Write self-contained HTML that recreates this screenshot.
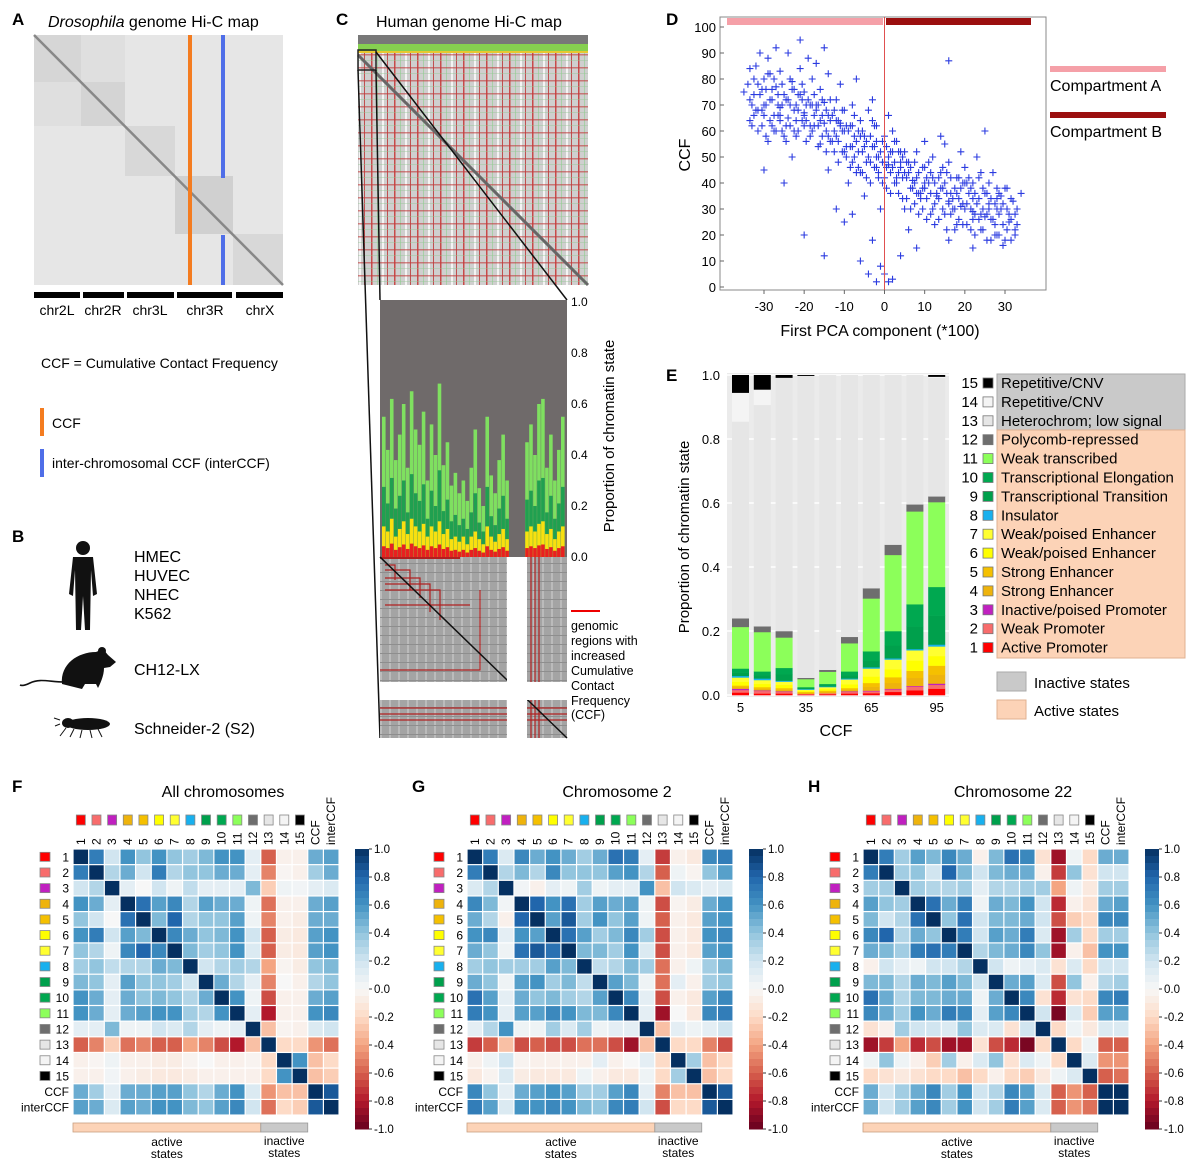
<!DOCTYPE html>
<html><head><meta charset="utf-8"><style>
html,body{margin:0;padding:0;background:#fff;}
svg{display:block;font-family:"Liberation Sans",Arial,sans-serif;}
</style></head><body>
<svg id="fig" width="1193" height="1165" viewBox="0 0 1193 1165" xmlns="http://www.w3.org/2000/svg">
<defs>
<pattern id="stripesC" width="23" height="10" patternUnits="userSpaceOnUse">
<rect width="23" height="10" fill="#cfcfcf"/><rect x="3" width="1.5" height="10" fill="#c84a4a"/><rect x="9" width="1" height="10" fill="#a8cfa8"/><rect x="14" width="2" height="10" fill="#f4f4f4"/><rect x="19" width="1" height="10" fill="#c05050"/>
</pattern>
<pattern id="hstripesC" width="10" height="13" patternUnits="userSpaceOnUse">
<rect y="2" width="10" height="1.5" fill="#c23a3a" opacity="0.6"/><rect y="8" width="10" height="1" fill="#90c890" opacity="0.4"/>
</pattern>
<pattern id="grayMat" width="9" height="9" patternUnits="userSpaceOnUse">
<rect width="9" height="9" fill="#a4a4a4"/><rect x="2" width="2" height="9" fill="#bbb"/><rect y="5" width="9" height="1" fill="#8e8e8e"/>
</pattern>
</defs>

<!-- Panel A -->
<g>
<text x="12" y="25" font-size="17" font-weight="bold">A</text>
<text x="48" y="27" font-size="16"><tspan font-style="italic">Drosophila</tspan> genome Hi-C map</text>
<g>
<rect x="34" y="35" width="249" height="250" fill="#e6e6e6"/>
<rect x="34" y="35" width="47" height="47" fill="#d6d6d6"/>
<rect x="81" y="82" width="44" height="44" fill="#d4d4d4"/>
<rect x="125" y="126" width="50" height="50" fill="#d8d8d8"/>
<rect x="175" y="176" width="58" height="58" fill="#d0d0d0"/>
<rect x="233" y="234" width="50" height="51" fill="#d8d8d8"/>
<rect x="34" y="82" width="47" height="44" fill="#dfdfdf"/>
<rect x="81" y="35" width="44" height="47" fill="#dfdfdf"/>
<line x1="34" y1="35" x2="283" y2="285" stroke="#888" stroke-width="2.5"/>
<rect x="188" y="35" width="4" height="250" fill="#f47c20"/>
<rect x="221" y="35" width="4" height="143" fill="#4f6ee8"/>
<rect x="221" y="235" width="4" height="50" fill="#4f6ee8"/>
</g>
<g fill="#000">
<rect x="34" y="292" width="46" height="6"/><rect x="83" y="292" width="41" height="6"/><rect x="127" y="292" width="47" height="6"/><rect x="177" y="292" width="55" height="6"/><rect x="236" y="292" width="47" height="6"/>
</g>
<g font-size="14" text-anchor="middle">
<text x="57" y="315">chr2L</text><text x="103" y="315">chr2R</text><text x="150" y="315">chr3L</text><text x="205" y="315">chr3R</text><text x="260" y="315">chrX</text>
</g>
<text x="41" y="368" font-size="14">CCF = Cumulative Contact Frequency</text>
<rect x="40" y="408" width="4" height="28" fill="#f47c20"/>
<text x="52" y="428" font-size="14">CCF</text>
<rect x="40" y="449" width="4" height="28" fill="#4f6ee8"/>
<text x="52" y="468" font-size="14">inter-chromosomal CCF (interCCF)</text>
</g>

<!-- Panel B -->
<g>
<text x="12" y="542" font-size="17" font-weight="bold">B</text>
<g fill="#111">
<circle cx="83" cy="548" r="7"/>
<path d="M73 557 L93 557 L97 594 L93 596 L91 570 L90 630 L85 630 L83 596 L81 630 L76 630 L75 570 L73 596 L69 594 Z"/>
</g>
<g font-size="16">
<text x="134" y="562">HMEC</text><text x="134" y="581">HUVEC</text><text x="134" y="600">NHEC</text><text x="134" y="619">K562</text>
</g>
<g fill="#111">
<path d="M62 684 C60 664 78 652 96 652 L103 649 L108 655 L116 662 L110 667 L104 668 C104 676 100 684 98 688 L96 684 L85 684 L82 689 Z"/>
<circle cx="102" cy="651" r="4"/>
<path d="M64 682 C50 682 40 678 30 683 C26 685 22 686 20 685" stroke="#111" stroke-width="1.6" fill="none"/>
</g>
<text x="134" y="675" font-size="16">CH12-LX</text>
<g fill="#111">
<ellipse cx="88" cy="724" rx="22" ry="6"/><ellipse cx="68" cy="723" rx="6" ry="5"/>
<path d="M66 728 L60 736 M74 729 L70 737 M82 730 L80 738 M90 730 L92 738 M98 729 L102 737" stroke="#111" stroke-width="1"/>
<path d="M60 720 L54 718 M60 724 L55 726" stroke="#111" stroke-width="1"/>
</g>
<text x="134" y="734" font-size="16">Schneider-2 (S2)</text>
</g>

<!-- Panel C -->
<g>
<text x="336" y="25" font-size="17" font-weight="bold">C</text>
<text x="376" y="27" font-size="16">Human genome Hi-C map</text>
<g>
<rect x="358" y="35" width="230" height="250" fill="url(#stripesC)"/>
<rect x="358" y="50" width="230" height="235" fill="url(#hstripesC)"/>
<rect x="358" y="35" width="230" height="17" fill="#787878"/>
<rect x="358" y="44" width="230" height="7" fill="#86d050"/>
<rect x="358" y="51" width="230" height="2" fill="#e8c830"/>
<line x1="358" y1="55" x2="588" y2="285" stroke="#666" stroke-width="3"/>
<rect x="358" y="50" width="18" height="20" fill="none" stroke="#222" stroke-width="1.5"/>
</g>
<g stroke="#111" stroke-width="1.5" fill="none">
<line x1="358" y1="70" x2="380" y2="738"/>
<line x1="376" y1="52" x2="567" y2="300"/>
<line x1="376" y1="70" x2="380" y2="300"/>
</g>
<g>
<rect x="380" y="300" width="187" height="257" fill="#6f6a6a"/>
<g id="spikes"></g>
<rect x="380" y="557" width="187" height="181" fill="url(#grayMat)"/>
<rect x="380" y="557" width="80" height="2" fill="#b02020"/>
<g stroke="#b02020" stroke-width="1.2" fill="none">
<path d="M385 565 H395 V580 M385 570 H410 V590 M385 578 H420 V598 M385 584 H430 V612 M385 590 H440 V620 M385 605 H470"/>
<path d="M380 670 H480 V590 M380 708 H567 M380 714 H567 M380 720 H567 M531 557 V738 M535 557 V738 M539 557 V738"/>
</g>
<line x1="380" y1="557" x2="567" y2="738" stroke="#111" stroke-width="1.5"/>
<rect x="507" y="557" width="20" height="181" fill="#fff"/>
<rect x="380" y="682" width="187" height="18" fill="#fff"/>
</g>
<g font-size="12">
<text x="571" y="306">1.0</text><text x="571" y="357">0.8</text><text x="571" y="408">0.6</text><text x="571" y="459">0.4</text><text x="571" y="510">0.2</text><text x="571" y="561">0.0</text>
</g>
<text transform="translate(614,436) rotate(-90)" font-size="15" text-anchor="middle">Proportion of chromatin state</text>
<line x1="571" y1="611" x2="600" y2="611" stroke="#e00" stroke-width="2"/>
<g font-size="12.5">
<text x="571" y="630">genomic</text><text x="571" y="645">regions with</text><text x="571" y="660">increased</text><text x="571" y="675">Cumulative</text><text x="571" y="690">Contact</text><text x="571" y="705">Frequency</text><text x="571" y="719">(CCF)</text>
</g>
</g>

<!-- Panel D -->
<g>
<text x="666" y="25" font-size="17" font-weight="bold">D</text>
<rect x="720" y="17" width="326" height="273" fill="#fff" stroke="#888" stroke-width="1"/>
<rect x="727" y="18" width="156" height="7" fill="#f5a0a8"/>
<rect x="886" y="18" width="145" height="7" fill="#9b0f0f"/>
<g id="scatter"></g>
<line x1="884.5" y1="17" x2="884.5" y2="290" stroke="#e05050" stroke-width="1"/>
<g id="dAxes"></g>
<text transform="translate(690,155) rotate(-90)" font-size="16" text-anchor="middle">CCF</text>
<text x="880" y="336" font-size="16" text-anchor="middle">First PCA component (*100)</text>
<rect x="1050" y="66" width="116" height="6" fill="#f5a0a8"/>
<text x="1050" y="91" font-size="16">Compartment A</text>
<rect x="1050" y="112" width="116" height="6" fill="#9b0f0f"/>
<text x="1050" y="137" font-size="16">Compartment B</text>
</g>

<!-- Panel E -->
<g>
<text x="666" y="381" font-size="17" font-weight="bold">E</text>
<rect x="727" y="373" width="222" height="324" fill="#ebebeb"/>
<g id="eGrid"></g>
<g id="bars"></g>
<g id="eAxes"></g>
<text transform="translate(689,537) rotate(-90)" font-size="15" text-anchor="middle">Proportion of chromatin state</text>
<text x="836" y="736" font-size="16" text-anchor="middle">CCF</text>
<rect x="997" y="374" width="188" height="56" fill="#c9c9c9" stroke="#aaa"/>
<rect x="997" y="430" width="188" height="228" fill="#fcd3b7" stroke="#e0b090"/>
<g id="eLegend"></g>
<rect x="997" y="672" width="29" height="19" fill="#c9c9c9" stroke="#aaa"/>
<text x="1034" y="688" font-size="15">Inactive states</text>
<rect x="997" y="700" width="29" height="19" fill="#fcd3b7" stroke="#e0b090"/>
<text x="1034" y="716" font-size="15">Active states</text>
</g>

<g id="heatmaps"></g>
</svg>

<script>
var NS = "http://www.w3.org/2000/svg";
function mk(tag, attrs, parent) { var e = document.createElementNS(NS, tag); for (var k in attrs) e.setAttribute(k, attrs[k]); if (parent) parent.appendChild(e); return e; }

// ---------- Panel C spike data ----------
var spikeTotals = [0.55,0.42,0.62,0.38,0.48,0.6,0.35,0.65,0.5,0.44,0.57,0.3,0.52,0.4,0.68,0.36,0.45,0.28,0.33,0.25,0.3,0.22,0.35,0.5,0.27,0.2,0.55,0.32,0.25,0.38,0.48,0.3,0.0,0.0,0.0,0.0,0.45,0.52,0.4,0.6,0.62,0.35,0.48,0.3,0.42,0.55];
var spikeYellow = [0.12,0.1,0.15,0.08,0.11,0.14,0.09,0.15,0.12,0.1,0.13,0.08,0.12,0.1,0.14,0.09,0.11,0.07,0.08,0.06,0.08,0.05,0.08,0.1,0.07,0.05,0.12,0.08,0.06,0.09,0.11,0.07,0,0,0,0,0.1,0.12,0.1,0.13,0.14,0.09,0.11,0.07,0.1,0.12];

// ---------- Panel D scatter data ----------
var pcaX = [-34,-33,-32,-31,-30,-30,-29,-28,-28,-27,-26,-26,-25,-24,-24,-23,-22,-22,-21,-20,-20,-19,-18,-18,-17,-16,-16,-15,-15,-14,-33,-31,-29,-27,-25,-23,-21,-19,-17,-15,
-13,-12,-12,-11,-10,-10,-9,-8,-8,-7,-6,-6,-5,-4,-4,-3,-2,-2,-1,0,0,1,2,2,3,4,5,-14,-11,-9,-7,-5,-3,-1,1,3,
6,7,8,8,9,10,11,12,12,13,14,15,15,16,17,18,18,19,20,20,21,22,22,23,24,24,25,26,26,27,28,28,29,30,31,32,33,10,14,19,23,27,30,16,
-20,-15,-10,-6,-3,0,2,-1,4,6,8,-12,-25,-30,-8,5,15,22,25,16,-4,1,-2,
-20,-18,-14,-12,-10,-6,-2,2,6,10,14,18,22,26,-24,-28,-16,-8,0,4,12,20,28,-22,-26,8,16,24,
-35,-32,-29,-26,-23,-20,-17,-14,-11,-8,-5,-2,1,4,7,10,13,16,19,22,25,28,31,34,-30,-27,-21,-13,-7,3,9,17,21,29,33,11,5,-3];
var ccfY = [78,70,85,74,66,80,88,72,62,77,69,83,74,65,90,79,70,58,84,75,66,72,80,60,68,76,55,71,63,82,62,90,56,92,58,50,95,88,86,92,
66,58,72,62,68,52,60,70,48,56,64,44,58,50,68,54,46,62,52,58,42,50,46,60,40,52,44,45,78,40,80,35,72,30,66,56,
48,38,52,42,34,46,40,30,50,36,44,28,40,48,34,42,24,38,30,46,36,26,40,32,44,22,36,30,40,26,34,20,30,38,28,33,24,56,58,52,50,44,18,18,
20,12,25,10,18,5,3,8,12,22,15,30,40,45,28,30,55,15,60,87,5,2,2,
62,70,66,64,60,58,56,52,44,40,38,36,34,32,72,76,64,54,48,46,42,40,38,64,66,36,32,28,
75,68,82,64,76,67,70,58,63,62,54,50,47,48,41,38,35,33,31,29,27,30,25,36,70,60,74,56,44,42,36,30,42,35,30,48,52,64];
var bandX = [-34,-33,-32,-31,-30,-29,-28,-27,-26,-25,-24,-23,-22,-21,-20,-19,-18,-17,-16,-15,-14,-13,-12,-11,-10,-9,-8,-7,-6,-5,-4,-3,-2,-1,0,1,2,3,4,5,6,7,8,9,10,11,12,13,14,15,16,17,18,19,20,21,22,23,24,25,26,27,28,29,30,31,32];
var bandY1 = [72,80,68,76,70,82,66,74,78,62,70,76,68,72,64,70,74,62,66,60,64,68,56,60,62,54,58,60,52,56,48,54,50,56,46,52,48,44,50,42,46,40,44,38,42,36,40,34,38,44,36,30,34,40,32,38,28,34,30,36,26,32,28,24,30,26,28];
var bandY2 = [64,74,60,68,58,72,60,66,70,56,62,68,60,64,56,62,66,54,58,52,56,60,48,52,54,46,50,52,44,48,40,46,42,48,38,44,40,36,42,34,38,32,36,30,34,28,32,26,30,36,28,22,26,32,24,30,20,26,22,28,18,24,20,16,22,18,20];
var bandY3 = [84,66,78,62,76,64,80,70,60,72,80,60,74,78,70,58,62,70,72,68,72,52,64,68,50,62,66,46,60,42,58,62,44,40,54,36,56,52,34,48,30,48,28,46,26,44,24,42,46,22,42,38,42,24,40,22,36,42,38,18,34,20,36,32,38,34,22];

// ---------- Panel E data ----------
var ccfBins = ["5","15","25","35","45","55","65","75","85","95"];
var stateNames = ["Active Promoter","Weak Promoter","Inactive/poised Promoter","Strong Enhancer","Strong Enhancer","Weak/poised Enhancer","Weak/poised Enhancer","Insulator","Transcriptional Transition","Transcriptional Elongation","Weak transcribed","Polycomb-repressed","Heterochrom; low signal","Repetitive/CNV","Repetitive/CNV"];
var stateColors = ["#ff0000","#f86c6c","#c020c0","#eeb30c","#f5c000","#ffff00","#ffff30","#18b0ee","#00a04c","#00a850","#8cff5a","#6e6e6e","#e6e6e6","#f4f4f4","#000000"];
var bar1 = [.008,.008,.004,.005,.005,.012,.013,.005,.01,.013,.13,.027,.615,.09,.055];
var bar2 = [.005,.008,.002,.005,.005,.01,.012,.005,.01,.012,.123,.018,.692,.048,.045];
var bar3 = [.005,.005,.002,.005,.005,.01,.01,.003,.02,.02,.095,.02,.792,0,.008];
var bar4 = [.002,.002,0,.003,.003,.003,.004,.002,.002,.004,.025,.004,.944,0,.002];
var bar5 = [.003,.003,0,.004,.004,.005,.006,.002,.003,.005,.038,.006,.921,0,0];
var bar6 = [.005,.005,.002,.005,.005,.012,.015,.003,.01,.012,.088,.02,.818,0,0];
var bar7 = [.006,.006,.002,.012,.012,.02,.025,.004,.02,.03,.165,.032,.666,0,0];
var bar8 = [.01,.008,.002,.018,.018,.025,.03,.004,.04,.045,.238,.032,.53,0,0];
var bar9 = [.015,.012,.002,.025,.022,.032,.032,.004,.07,.07,.29,.022,.404,0,0];
var bar10 = [.02,.012,.004,.028,.028,.03,.03,.006,.09,.09,.265,.018,.371,.003,.005];
var eTicks = [0,0.2,0.4,0.6,0.8,1.0];

// ---------- Heatmap data ----------
var hmLabels = ["1","2","3","4","5","6","7","8","9","10","11","12","13","14","15","CCF","interCCF"];
var cbTicks = [1,0.8,0.6,0.4,0.2,0,-0.2,-0.4,-0.6,-0.8,-1];
var matF = [
[1,.7,.2,.6,.4,.6,.4,.35,.45,.6,.6,.1,-.6,-.05,-.05,.5,.55],
[.7,1,.3,.5,.2,.7,.3,.4,.4,.5,.5,.1,-.5,-.02,-.05,.35,.5],
[.2,.3,1,.1,0,.2,.05,.25,.1,.1,.1,.45,-.25,.05,.03,.1,.15],
[.6,.5,.1,1,.75,.55,.65,.3,.55,.5,.5,.05,-.55,-.05,-.05,.5,.55],
[.4,.2,0,.75,1,.45,.8,.3,.4,.4,.55,.05,-.5,-.05,-.08,.5,.5],
[.6,.7,.2,.55,.45,1,.65,.5,.4,.45,.6,.2,-.6,-.08,-.1,.55,.6],
[.4,.3,.05,.65,.8,.65,1,.45,.35,.4,.6,.15,-.6,-.08,-.1,.55,.6],
[.35,.4,.25,.3,.3,.5,.45,1,.2,.3,.35,.3,-.4,-.03,-.08,.4,.45],
[.45,.4,.1,.55,.4,.4,.35,.2,1,.5,.3,.1,-.5,0,-.05,.3,.4],
[.6,.5,.1,.5,.4,.45,.4,.3,.5,1,.6,.05,-.65,-.05,-.05,.5,.55],
[.6,.5,.1,.5,.55,.6,.6,.35,.3,.6,1,.1,-.8,-.05,-.05,.6,.65],
[.1,.1,.45,.05,.05,.2,.15,.3,.1,.05,.1,1,-.3,-.03,-.05,.15,.2],
[-.6,-.5,-.25,-.55,-.5,-.6,-.6,-.4,-.5,-.65,-.8,-.3,1,-.2,-.2,-.45,-.55],
[-.05,-.02,.05,-.05,-.05,-.08,-.08,-.03,0,-.05,-.05,-.03,-.2,1,.6,-.3,-.2],
[-.05,-.05,.03,-.05,-.08,-.1,-.1,-.08,-.05,-.05,-.05,-.05,-.2,.6,1,-.3,-.25],
[.5,.35,.1,.5,.5,.55,.55,.4,.3,.5,.6,.15,-.45,-.3,-.3,1,.85],
[.55,.5,.15,.55,.5,.6,.6,.45,.4,.55,.65,.2,-.55,-.2,-.25,.85,1]];
var matG = [
[1,.7,.15,.65,.5,.6,.5,.35,.5,.75,.7,.1,-.7,-.05,-.1,.65,.7],
[.7,1,.3,.45,.3,.65,.4,.4,.4,.55,.6,.3,-.6,.05,-.03,.4,.55],
[.15,.3,1,.03,-.05,.1,.05,.35,.05,.1,.1,.6,-.3,.2,.15,.1,.15],
[.65,.45,.03,1,.8,.6,.75,.35,.55,.5,.55,.05,-.65,-.03,-.08,.5,.6],
[.5,.3,-.05,.8,1,.55,.85,.35,.6,.4,.55,.05,-.6,-.05,-.1,.55,.6],
[.6,.65,.1,.6,.55,1,.75,.55,.35,.45,.65,.35,-.65,-.05,-.1,.6,.65],
[.5,.4,.05,.75,.85,.75,1,.45,.45,.35,.6,.15,-.65,-.05,-.1,.55,.6],
[.35,.4,.35,.35,.35,.55,.45,1,.25,.3,.45,.35,-.55,-.05,.05,.35,.45],
[.5,.4,.05,.55,.6,.35,.45,.25,1,.55,.45,.05,-.55,.1,-.05,.35,.4],
[.75,.55,.1,.5,.4,.45,.35,.3,.55,1,.65,.1,-.65,-.05,-.1,.55,.65],
[.7,.6,.1,.55,.55,.65,.6,.45,.45,.65,1,.1,-.85,0,-.1,.65,.7],
[.1,.3,.6,.05,.05,.35,.15,.35,.05,.1,.1,1,-.3,.1,.05,.1,.2],
[-.7,-.6,-.3,-.65,-.6,-.65,-.65,-.55,-.55,-.65,-.85,-.3,1,-.2,-.2,-.5,-.65],
[-.05,.05,.2,-.03,-.05,-.05,-.05,-.05,.1,-.05,0,.1,-.2,1,.35,-.3,-.2],
[-.1,-.03,.15,-.08,-.1,-.1,-.1,.05,-.05,-.1,-.1,.05,-.2,.35,1,-.3,-.2],
[.65,.4,.1,.5,.55,.6,.55,.35,.35,.55,.65,.1,-.5,-.3,-.3,1,.85],
[.7,.55,.15,.6,.6,.65,.6,.45,.4,.65,.7,.2,-.65,-.2,-.2,.85,1]];
var matH = [
[1,.7,.35,.55,.45,.65,.5,-.05,.45,.75,.65,-.15,-.85,.05,-.2,.5,.5],
[.7,1,.35,.4,.2,.8,.45,.2,.45,.5,.5,-.05,-.7,.4,-.15,.2,.2],
[.35,.35,1,.35,.3,.3,.35,.1,.3,.3,.35,.35,-.4,.05,-.1,.35,.35],
[.55,.4,.35,1,.75,.5,.7,.05,.5,.45,.6,.2,-.75,-.05,-.15,.5,.55],
[.45,.2,.3,.75,1,.4,.75,.2,.45,.45,.5,.2,-.65,-.25,-.2,.65,.65],
[.65,.8,.3,.5,.4,1,.7,.2,.55,.5,.7,.15,-.85,.35,-.2,.35,.35],
[.5,.45,.35,.7,.75,.7,1,.3,.45,.5,.65,.4,-.85,-.05,-.3,.6,.6],
[-.05,.2,.1,.05,.2,.2,.3,1,.2,.05,.1,.15,-.15,.15,-.2,.2,.2],
[.45,.45,.3,.5,.45,.55,.45,.2,1,.5,.55,.15,-.65,.4,-.05,.3,.35],
[.75,.5,.3,.45,.45,.5,.5,.05,.5,1,.65,-.15,-.75,-.15,-.2,.65,.7],
[.65,.5,.35,.6,.5,.7,.65,.1,.55,.65,1,.2,-.95,.15,-.25,.55,.55],
[-.15,-.05,.35,.2,.2,.15,.4,.15,.15,-.15,.2,1,-.2,.05,-.1,.15,.15],
[-.85,-.7,-.4,-.75,-.65,-.85,-.85,-.15,-.65,-.75,-.95,-.2,1,-.2,.05,-.6,-.6],
[.05,.4,.05,-.05,-.25,.35,-.05,.15,.4,-.15,.15,.05,-.2,1,.15,-.45,-.45],
[-.2,-.15,-.1,-.15,-.2,-.2,-.3,-.2,-.05,-.2,-.25,-.1,.05,.15,1,-.6,-.55],
[.5,.2,.35,.5,.65,.35,.6,.2,.3,.65,.55,.15,-.6,-.45,-.6,1,1],
[.5,.2,.35,.55,.65,.35,.6,.2,.35,.7,.55,.15,-.6,-.45,-.55,1,1]];

// ---------- Draw panel C spikes ----------
(function(){
  var g = document.getElementById('spikes');
  var x0 = 382, w = 183 / spikeTotals.length, yBase = 557, h = 255;
  for (var i = 0; i < spikeTotals.length; i++) {
    var t = spikeTotals[i]; if (t <= 0) continue;
    var x = x0 + i * w;
    var r1 = mk('rect', {x: x, y: yBase - t * h, width: w * 0.9, height: t * h, fill: '#7fe060'}, g);
    
    
    var r2 = mk('rect', {x: x, y: yBase - t * 0.5 * h, width: w * 0.9, height: t * 0.5 * h, fill: '#20a050'}, g);
    
    
    var yv = spikeYellow[i];
    var r3 = mk('rect', {x: x, y: yBase - yv * h, width: w * 0.9, height: yv * h, fill: '#f8e010'}, g);
    
    
    var r4 = mk('rect', {x: x, y: yBase - yv * 0.35 * h, width: w * 0.9, height: yv * 0.35 * h, fill: '#e82020'}, g);
    
    
  }
})();

// ---------- Draw panel D ----------
(function(){
  function sx(v){ return 884.5 + v * 4.017; }
  function sy(v){ return 287 - v * 2.6; }
  var g = document.getElementById('scatter');
  function pt(xv, yv){
    var x = sx(xv), y = sy(yv);
    var p = mk('path', {d: 'M'+(x-3.5)+' '+y+'H'+(x+3.5)+'M'+x+' '+(y-3.5)+'V'+(y+3.5), stroke: '#2b3be0', 'stroke-width': 1.1, fill: 'none'}, g);
    
    
  }
  for (var i = 0; i < pcaX.length; i++) pt(pcaX[i], ccfY[i]);
  [bandY1, bandY2, bandY3].forEach(function(arr){
    var n = Math.min(arr.length, bandX.length);
    for (var j = 0; j < n; j++) pt(bandX[j] + 0.5, arr[j]);
  });
  var a = document.getElementById('dAxes');
  var yt = [0,10,20,30,40,50,60,70,80,90,100];
  yt.forEach(function(v){
    var t = mk('text', {x: 716, y: sy(v) + 5, 'font-size': 13, 'text-anchor': 'end'}, a); t.textContent = v;
    
    
    mk('line', {x1: 720, x2: 724, y1: sy(v), y2: sy(v), stroke: '#666'}, a);
  });
  var xt = [-30,-20,-10,0,10,20,30];
  xt.forEach(function(v){
    var t = mk('text', {x: sx(v), y: 311, 'font-size': 13, 'text-anchor': 'middle'}, a); t.textContent = v;
    
    
    mk('line', {x1: sx(v), x2: sx(v), y1: 290, y2: 294, stroke: '#666'}, a);
  });
})();

// ---------- Draw panel E ----------
(function(){
  var bars = [bar1,bar2,bar3,bar4,bar5,bar6,bar7,bar8,bar9,bar10];
  function sy(v){ return 695 - v * 320; }
  var grid = document.getElementById('eGrid');
  eTicks.forEach(function(v){
    mk('line', {x1: 727, x2: 949, y1: sy(v), y2: sy(v), stroke: '#fff', 'stroke-width': 1.5}, grid);
  });
  var g = document.getElementById('bars');
  var pitch = 21.8, bw = 17;
  bars.forEach(function(b, i){
    var x = 732 + i * pitch, cum = 0;
    b.forEach(function(v, s){
      if (v <= 0) { return; }
      var r = mk('rect', {x: x, y: sy(cum + v), width: bw, height: v * 320 + 0.3, fill: stateColors[s]}, g);
      
      
      cum += v;
    });
  });
  var a = document.getElementById('eAxes');
  eTicks.forEach(function(v){
    var t = mk('text', {x: 720, y: sy(v) + 5, 'font-size': 13, 'text-anchor': 'end'}, a); t.textContent = v.toFixed(1);
    
    
  });
  [0,3,6,9].forEach(function(i){
    var t = mk('text', {x: 732 + i * pitch + bw / 2, y: 712, 'font-size': 13, 'text-anchor': 'middle'}, a); t.textContent = ccfBins[i];
    
    
  });
  var L = document.getElementById('eLegend');
  for (var s = 14; s >= 0; s--) {
    var y = 383 + (14 - s) * 18.9;
    var n = mk('text', {x: 978, y: y + 5, 'font-size': 15, 'text-anchor': 'end'}, L); n.textContent = (s + 1);
    
    
    var sw = mk('rect', {x: 983, y: y - 5, width: 10, height: 10, fill: stateColors[s], stroke: '#777', 'stroke-width': 0.8}, L);
    
    
    var t = mk('text', {x: 1001, y: y + 5, 'font-size': 15}, L); t.textContent = stateNames[s];
    
    
  }
})();

// ---------- Heatmaps ----------
function rdbu(v){
  var stops = [[-1,[103,0,31]],[-0.8,[178,24,43]],[-0.6,[214,96,77]],[-0.4,[244,165,130]],[-0.2,[253,219,199]],[0,[247,247,247]],[0.2,[209,229,240]],[0.4,[146,197,222]],[0.6,[67,147,195]],[0.8,[33,102,172]],[1,[5,48,97]]];
  v = Math.max(-1, Math.min(1, v));
  for (var i = 0; i < stops.length - 1; i++) {
    if (v <= stops[i+1][0]) {
      var f = (v - stops[i][0]) / (stops[i+1][0] - stops[i][0]), a = stops[i][1], b = stops[i+1][1];
      return 'rgb(' + [0,1,2].map(function(k){ return Math.round(a[k] + (b[k]-a[k]) * f); }).join(',') + ')';
    }
  }
  return 'rgb(5,48,97)';
}
function heatmap(mat, gx, letterX, title, titleX, cbX, nameKey){
  var root = document.getElementById('heatmaps');
  var G = mk('g', {}, root);
  
  
  var gy = 849, cs = 15.65;
  var lt = mk('text', {x: letterX, y: 792, 'font-size': 17, 'font-weight': 'bold'}, G); lt.textContent = String.fromCharCode(70 + ['f','g','h'].indexOf(nameKey));
  
  
  var tt = mk('text', {x: titleX, y: 797, 'font-size': 16, 'text-anchor': 'middle'}, G); tt.textContent = title;
  
  
  mk('rect', {x: gx, y: gy, width: cs * 17, height: cs * 17, fill: '#fff'}, G);
  for (var r = 0; r < 17; r++) for (var c = 0; c < 17; c++) {
    var cell = mk('rect', {x: gx + c * cs + 0.6, y: gy + r * cs + 0.6, width: cs - 1.2, height: cs - 1.2, fill: rdbu(mat[r][c])}, G);
    
    
  }
  for (var i = 0; i < 17; i++) {
    var cx = gx + i * cs + cs / 2, cy = gy + i * cs + cs / 2;
    if (i < 15) {
      var s1 = mk('rect', {x: cx - 4.5, y: 815, width: 9, height: 10, fill: stateColors[i], stroke: '#888', 'stroke-width': 0.8}, G);
      
      
      var s2 = mk('rect', {x: gx - 33, y: cy - 4.5, width: 10, height: 9, fill: stateColors[i], stroke: '#888', 'stroke-width': 0.8}, G);
      
      
    }
    var ct = mk('text', {transform: 'translate(' + (cx + 4) + ',' + 845 + ') rotate(-90)', 'font-size': 12}, G); ct.textContent = hmLabels[i];
    
    
    var rt = mk('text', {x: gx - 4, y: cy + 4.5, 'font-size': 12, 'text-anchor': 'end'}, G); rt.textContent = hmLabels[i];
    
    
  }
  var ncb = 40;
  for (var k = 0; k < ncb; k++) {
    var v = 1 - 2 * (k + 0.5) / ncb;
    mk('rect', {x: cbX, y: 849 + k * 280 / ncb, width: 14, height: 280 / ncb + 0.5, fill: rdbu(v)}, G);
  }
  cbTicks.forEach(function(v){
    var y = 849 + (1 - v) / 2 * 280;
    mk('line', {x1: cbX + 14, x2: cbX + 17, y1: y, y2: y, stroke: '#333'}, G);
    var t = mk('text', {x: cbX + 19, y: y + 4, 'font-size': 11.5}, G); t.textContent = v.toFixed(1);
    
    
  });
  var ab = mk('rect', {x: gx, y: 1123, width: cs * 12, height: 9, fill: '#fcd3b7', stroke: '#c8a080', 'stroke-width': 0.8}, G);
  
  
  var ib = mk('rect', {x: gx + cs * 12, y: 1123, width: cs * 3, height: 9, fill: '#c9c9c9', stroke: '#999', 'stroke-width': 0.8}, G);
  
  
  [['active', gx + cs * 6, 1146], ['states', gx + cs * 6, 1158], ['inactive', gx + cs * 13.5, 1145], ['states', gx + cs * 13.5, 1157]].forEach(function(d){
    var t = mk('text', {x: d[1], y: d[2], 'font-size': 12, 'text-anchor': 'middle'}, G); t.textContent = d[0];
    
    
  });
}
heatmap(matF, 73, 12, 'All chromosomes', 223, 355, 'f');
heatmap(matG, 467, 412, 'Chromosome 2', 617, 749, 'g');
heatmap(matH, 863, 808, 'Chromosome 22', 1013, 1145, 'h');
</script>
</body></html>
